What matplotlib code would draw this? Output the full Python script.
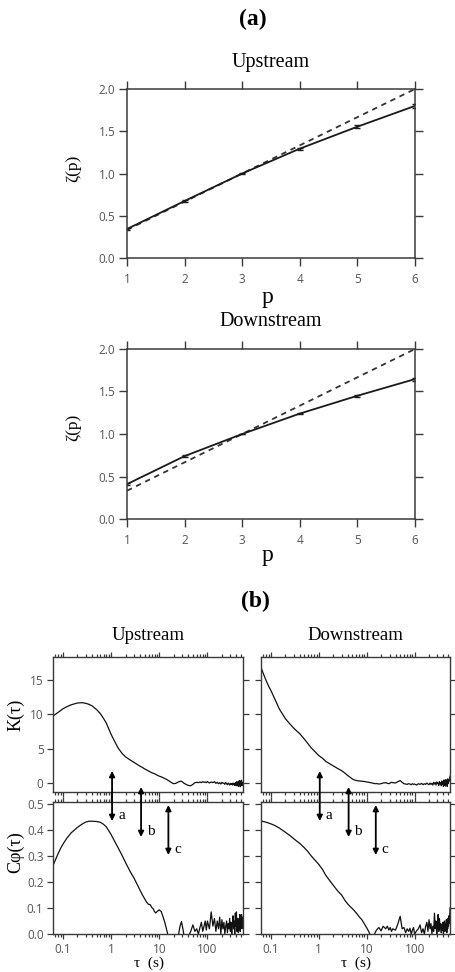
import numpy as np
import matplotlib
matplotlib.use("Agg")
import matplotlib.pyplot as plt
from matplotlib.ticker import FixedLocator, FixedFormatter, LogLocator, NullFormatter
from matplotlib.transforms import blended_transform_factory, offset_copy

SERIF = ["Liberation Serif", "DejaVu Serif"]
SANS = ["Open Sans", "DejaVu Sans"]

# ---------------- (a) scaling exponents zeta(p) ----------------
p_orders = [1, 2, 3, 4, 5, 6]
zeta_k41 = [0.333, 0.667, 1.0, 1.333, 1.667, 2.0]
zeta_up = [0.343, 0.675, 1.0, 1.294, 1.554, 1.80]
zeta_up_err = [0.012, 0.010, 0.005, 0.010, 0.015, 0.022]
zeta_down = [0.41, 0.74, 1.0, 1.24, 1.45, 1.646]
zeta_down_err = [0.008, 0.008, 0.004, 0.008, 0.012, 0.018]

# ---------------- (b) flatness K(tau) and correlation C_phi(tau) ----------------
tau = [
    0.062, 0.07, 0.08, 0.09, 0.1, 0.12, 0.15, 0.2, 0.25, 0.3,
    0.35, 0.4, 0.5, 0.6, 0.7, 0.8, 1.0, 1.2, 1.4, 1.7,
    2.0, 2.5, 3.0, 3.5, 4.0, 4.5, 5.0, 5.5, 6.0, 6.5,
    7.0, 7.5, 8.0, 8.5, 9.0, 10, 11, 12, 13, 14,
    15, 16, 18, 20, 22, 25, 27, 29, 31, 33,
    35, 40, 45, 50, 55, 60, 65, 70, 75, 80,
    85, 90, 95, 100, 110, 120, 130, 140, 150, 160,
    170, 180, 190, 200, 210, 220, 230, 240, 250, 260,
    270, 280, 290, 300, 310, 320, 330, 340, 350, 360,
    370, 380, 390, 400, 410, 420, 430, 440, 450, 460,
    470, 480, 490, 500, 510, 520, 530, 550,
]

k_up = [
    9.75, 10.0, 10.3, 10.55, 10.8, 11.1, 11.4, 11.65, 11.7, 11.6,
    11.45, 11.25, 10.7, 10.1, 9.4, 8.7, 7.1, 6.0, 5.1, 4.3,
    3.8, 3.35, 3.0, 2.7, 2.45, 2.25, 2.05, 1.9, 1.75, 1.62,
    1.5, 1.42, 1.35, 1.25, 1.15, 1.0, 0.9, 0.78, 0.65, 0.55,
    0.42, 0.3, 0.05, -0.1, -0.05, 0.15, 0.25, 0.25, 0.1, -0.05,
    -0.15, -0.35, -0.4, -0.2, 0.05, 0.1, 0.05, 0.15, 0.05, 0.2,
    0.1, 0.15, 0.05, 0.2, 0.0, 0.15, 0.05, 0.2, -0.05, 0.1,
    -0.1, 0.05, -0.15, 0.1, -0.05, 0.0, -0.2, 0.05, -0.1, -0.25,
    0.0, -0.15, -0.3, -0.05, -0.2, -0.1, -0.3, 0.0, -0.25, -0.1,
    -0.35, 0.05, -0.2, -0.4, 0.2, -0.3, 0.1, -0.5, 0.3, -0.2,
    0.35, -0.55, 0.15, -0.3, 0.4, -0.4, 0.1, -0.2,
]

c_up = [
    0.262, 0.285, 0.31, 0.33, 0.345, 0.368, 0.39, 0.41, 0.423, 0.431,
    0.434, 0.434, 0.433, 0.43, 0.422, 0.412, 0.383, 0.355, 0.332, 0.302,
    0.275, 0.24, 0.215, 0.19, 0.168, 0.15, 0.135, 0.122, 0.114, 0.113,
    0.102, 0.097, 0.086, 0.081, 0.086, 0.093, 0.086, 0.066, 0.046, 0.022,
    0.0, -0.01, -0.01, -0.01, -0.01, -0.005, 0.03, 0.048, 0.02, -0.01,
    -0.01, -0.01, 0.01, 0.035, 0.01, 0.02, 0.0, 0.025, 0.045, 0.01,
    0.03, 0.05, 0.015, 0.05, 0.02, 0.085, 0.03, 0.06, 0.01, 0.05,
    0.02, 0.065, 0.0, 0.055, 0.02, 0.045, 0.0, 0.03, 0.05, 0.005,
    0.04, 0.02, 0.06, 0.01, 0.045, 0.0, 0.035, 0.07, 0.02, 0.05,
    0.0, 0.08, 0.03, 0.085, 0.01, 0.04, 0.06, 0.005, 0.05, 0.02,
    0.075, 0.01, 0.055, 0.03, 0.075, 0.02, 0.065, 0.04,
]

k_down = [
    16.9, 15.9, 14.9, 14.1, 13.5, 12.3, 10.8, 9.4, 8.6, 8.0,
    7.55, 7.2, 6.4, 5.7, 5.1, 4.7, 4.0, 3.6, 3.15, 2.8,
    2.5, 2.1, 1.8, 1.45, 1.1, 0.85, 0.6, 0.45, 0.38, 0.32,
    0.3, 0.28, 0.25, 0.24, 0.22, 0.15, 0.1, 0.05, 0.0, -0.05,
    -0.1, -0.08, -0.15, -0.1, 0.0, 0.05, -0.05, -0.1, 0.0, 0.1,
    0.05, 0.0, 0.2, 0.35, 0.1, -0.1, -0.15, -0.2, -0.1, -0.15,
    -0.25, -0.1, -0.2, -0.15, -0.3, -0.1, -0.2, -0.05, -0.25, -0.1,
    -0.2, 0.0, -0.15, -0.25, 0.0, -0.2, -0.05, -0.3, 0.1, -0.15,
    0.05, -0.3, 0.15, -0.1, 0.0, -0.35, 0.2, -0.1, 0.05, -0.4,
    0.3, -0.2, 0.1, -0.5, 0.45, -0.3, 0.2, -0.45, 0.5, -0.2,
    0.3, -0.5, 0.6, -0.1, 0.4, 0.2, 0.5, 1.0,
]

c_down = [
    0.435, 0.433, 0.43, 0.427, 0.424, 0.418, 0.408, 0.392, 0.379, 0.367,
    0.357, 0.349, 0.332, 0.316, 0.3, 0.288, 0.268, 0.248, 0.226, 0.205,
    0.188, 0.165, 0.15, 0.13, 0.116, 0.106, 0.098, 0.09, 0.082, 0.074,
    0.066, 0.06, 0.054, 0.046, 0.038, 0.024, 0.01, -0.005, -0.01, -0.01,
    0.005, 0.015, 0.025, 0.012, 0.03, 0.02, 0.03, 0.015, 0.025, 0.01,
    0.02, 0.015, 0.04, 0.068, 0.02, 0.025, 0.005, 0.02, 0.01, 0.022,
    0.0, 0.015, 0.025, 0.0, 0.012, 0.02, 0.035, 0.005, 0.02, 0.0,
    0.03, 0.045, 0.01, 0.055, 0.02, 0.04, 0.0, 0.03, 0.01, 0.08,
    0.02, 0.05, 0.0, 0.03, 0.075, 0.01, 0.06, 0.02, 0.04, 0.005,
    0.035, 0.015, 0.045, 0.0, 0.03, 0.05, 0.01, 0.04, 0.02, 0.055,
    0.005, 0.045, 0.02, 0.06, 0.03, 0.07, 0.04, 0.1,
]

for series in (k_up, c_up, k_down, c_down):
    assert len(series) == len(tau)

# characteristic time scales marked by arrows
arrow_tau = [1.05, 4.2, 15.5]
arrow_names = ["a", "b", "c"]

log_ticks = [0.1, 1, 10, 100]
log_tick_labels = ["0.1", "1", "10", "100"]

# ---------------- figure layout (pixel boxes) ----------------
W, H = 455, 972
fig = plt.figure(figsize=(W / 100, H / 100), dpi=100)

SPINE = "#3a3a3a"
TICKLBL = "#555555"


def px_axes(left, top, right, bottom):
    return fig.add_axes([left / W, 1 - bottom / H, (right - left) / W, (bottom - top) / H])


def px_text(x, y, s, **kw):
    return fig.text(x / W, 1 - y / H, s, ha="center", va="center", **kw)


def style_frame(ax, lw=1.0):
    for sp in ax.spines.values():
        sp.set_color(SPINE)
        sp.set_linewidth(lw)


# ---------------- panel (a) ----------------
px_text(253, 19, "(a)", family=SERIF, fontsize=17, fontweight="bold")


def zeta_panel(box, title, zeta, err, title_y, p_y, ylab_y):
    ax = px_axes(*box)
    ax.plot(p_orders, zeta_k41, color="#333333", lw=1.3, ls=(0, (3.0, 2.6)))
    ax.errorbar(p_orders, zeta, yerr=err, color="#1a1a1a", lw=1.3,
                elinewidth=1.0, capsize=2.5, capthick=1.0)
    ax.set_xlim(1, 6)
    ax.set_ylim(0, 2.0)
    ax.set_xticks(p_orders)
    ax.set_yticks([0, 0.5, 1.0, 1.5, 2.0])
    ax.set_yticklabels(["0.0", "0.5", "1.0", "1.5", "2.0"])
    style_frame(ax, 1.1)
    ax.tick_params(which="both", direction="out", top=True, right=True,
                   length=6, width=1.0, color=SPINE, labelsize=8.5,
                   labelcolor=TICKLBL)
    ax.tick_params(axis="x", pad=5)
    ax.tick_params(axis="y", pad=2.5)
    for lbl in ax.get_xticklabels() + ax.get_yticklabels():
        lbl.set_family(SANS)
    px_text((box[0] + box[2]) / 2, title_y, title, family=SERIF, fontsize=14.5)
    px_text(268, p_y, "p", family=SERIF, fontsize=17)
    px_text(73, ylab_y, "ζ(p)", family=SERIF, fontsize=12.5, rotation=90)
    return ax


zeta_panel((127, 89, 415, 258), "Upstream", zeta_up, zeta_up_err, 62, 297, 168)
zeta_panel((127, 349, 415, 519), "Downstream", zeta_down, zeta_down_err, 322, 556, 427)

# ---------------- panel (b) ----------------
px_text(255, 601, "(b)", family=SERIF, fontsize=17, fontweight="bold")

XLIM = (0.0624, 548)


def log_axis(ax, ylim, yticks, yticklabels, show_ylabels, show_xlabels):
    ax.set_xscale("log")
    ax.set_xlim(*XLIM)
    ax.set_ylim(*ylim)
    ax.xaxis.set_major_locator(FixedLocator(log_ticks))
    ax.xaxis.set_major_formatter(FixedFormatter(log_tick_labels))
    ax.xaxis.set_minor_locator(LogLocator(base=10, subs=np.arange(2, 10)))
    ax.xaxis.set_minor_formatter(NullFormatter())
    ax.set_yticks(yticks)
    ax.set_yticklabels(yticklabels)
    style_frame(ax, 1.0)
    ax.tick_params(which="both", direction="out", top=True, right=True,
                   color=SPINE, width=0.9, labelsize=8.5, labelcolor=TICKLBL,
                   labelbottom=show_xlabels, labelleft=show_ylabels)
    ax.tick_params(axis="x", which="major", length=3.8, pad=2.5)
    ax.tick_params(axis="x", which="minor", length=2.0)
    ax.tick_params(axis="y", which="major", length=4.3, pad=2.5)
    for lbl in ax.get_xticklabels() + ax.get_yticklabels():
        lbl.set_family(SANS)


K_YLIM = (-1.31, 18.35)
C_YLIM = (0.0, 0.508)
k_ticks = [0, 5, 10, 15]
c_ticks = [0.0, 0.1, 0.2, 0.3, 0.4, 0.5]
c_labels = ["0.0", "0.1", "0.2", "0.3", "0.4", "0.5"]

columns = [
    ("Upstream", 53, 243, k_up, c_up, True, 148),
    ("Downstream", 261, 450, k_down, c_down, False, 355),
]

for title, x0, x1, kvals, cvals, first, cx in columns:
    axk = px_axes(x0, 657, x1, 792)
    axc = px_axes(x0, 802, x1, 934)

    axk.plot(tau, kvals, color="#111111", lw=0.9)
    axc.plot(tau, cvals, color="#111111", lw=0.9)

    log_axis(axk, K_YLIM, k_ticks, [str(t) for t in k_ticks], first, False)
    log_axis(axc, C_YLIM, c_ticks, c_labels, first, True)

    px_text(cx, 635, title, family=SERIF, fontsize=13.5)
    px_text(cx + 1, 963, "τ  (s)", family=SERIF, fontsize=11)

    if first:
        px_text(16, 715, "K(τ)", family=SERIF, fontsize=13, rotation=90)
        px_text(16, 852, "Cφ(τ)", family=SERIF, fontsize=13, rotation=90)

    # double-headed arrows spanning the gap between the two frames
    trans = blended_transform_factory(axc.transData, fig.transFigure)
    lbl_trans = offset_copy(trans, fig=fig, x=9.5, y=0, units="dots")
    spans = [(771, 821), (787, 837), (805, 855)]
    for t_mark, name, (ytop, ybot) in zip(arrow_tau, arrow_names, spans):
        axc.annotate("", xy=(t_mark, 1 - ytop / H), xytext=(t_mark, 1 - ybot / H),
                     xycoords=trans, textcoords=trans, annotation_clip=False,
                     arrowprops=dict(arrowstyle="<|-|>", color="black", lw=1.3,
                                     mutation_scale=8, shrinkA=0, shrinkB=0))
        axc.text(t_mark, 1 - (ybot - 6) / H, name, transform=lbl_trans,
                 family=SERIF, fontsize=11, ha="center", va="center",
                 clip_on=False)

fig.savefig("out.png", dpi=100)
